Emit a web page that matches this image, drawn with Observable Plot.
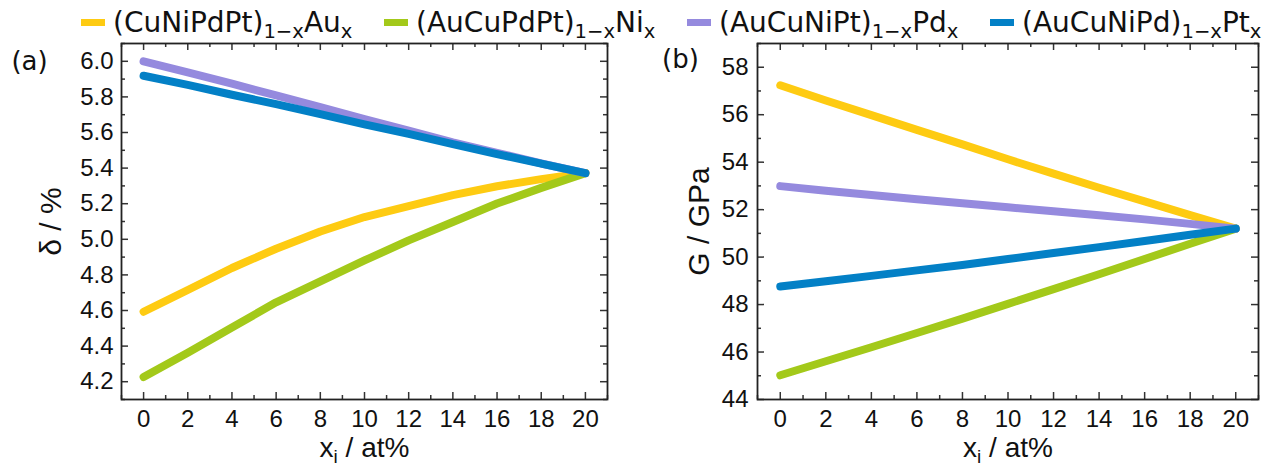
<!DOCTYPE html>
<html><head><meta charset="utf-8">
<script src="https://cdn.jsdelivr.net/npm/d3@7"></script>
<script src="https://cdn.jsdelivr.net/npm/@observablehq/plot@0.6"></script>
<style>
html,body{margin:0;padding:0;background:#fff;}
#wrap{position:relative;width:1267px;height:467px;overflow:hidden;background:#fff;}
#legend{position:absolute;left:0;top:7px;width:1267px;height:30px;z-index:2;font-family:"DejaVu Sans",sans-serif;font-size:28px;color:#111;}
.item{position:absolute;top:0;display:flex;align-items:center;height:30px;white-space:nowrap;}
.sw{display:inline-block;width:24px;height:7px;margin-right:8px;}
.item sub{font-size:0.7em;vertical-align:-0.3em;line-height:0;}
#pa,#pb{position:absolute;top:0;}
#pa{left:0px;} #pb{left:633px;}
</style></head><body>
<div id="wrap"><div id="pa"></div><div id="pb"></div><div id="legend"></div></div>
<script>
// ---- data ----
const xValues = [0, 2, 4, 6, 8, 10, 12, 14, 16, 18, 20];
const seriesKeys = ["Au", "Ni", "Pd", "Pt"];
const legendBase = ["(CuNiPdPt)", "(AuCuPdPt)", "(AuCuNiPt)", "(AuCuNiPd)"];
const legendElem = ["Au", "Ni", "Pd", "Pt"];
const seriesColors = ["#fecb12", "#a3c91a", "#958ade", "#0380c6"];

const deltaAu = [4.593, 4.715, 4.839, 4.947, 5.044, 5.125, 5.187, 5.248, 5.298, 5.338, 5.372];
const deltaNi = [4.226, 4.363, 4.504, 4.646, 4.764, 4.881, 4.994, 5.097, 5.201, 5.289, 5.372];
const deltaPd = [6.000, 5.938, 5.874, 5.808, 5.742, 5.675, 5.611, 5.545, 5.486, 5.426, 5.372];
const deltaPt = [5.919, 5.868, 5.812, 5.759, 5.703, 5.646, 5.592, 5.535, 5.479, 5.425, 5.372];

const gAu = [57.24, 56.60, 55.98, 55.36, 54.75, 54.12, 53.52, 52.92, 52.35, 51.77, 51.20];
const gNi = [45.02, 45.61, 46.20, 46.80, 47.41, 48.03, 48.65, 49.28, 49.92, 50.56, 51.20];
const gPd = [52.99, 52.80, 52.62, 52.44, 52.27, 52.10, 51.93, 51.76, 51.59, 51.40, 51.20];
const gPt = [48.76, 48.98, 49.21, 49.44, 49.67, 49.92, 50.17, 50.42, 50.68, 50.94, 51.20];

const xMajor = [0, 2, 4, 6, 8, 10, 12, 14, 16, 18, 20];
const xMinor = [-1, 1, 3, 5, 7, 9, 11, 13, 15, 17, 19, 21];
const yMajorA = [4.2, 4.4, 4.6, 4.8, 5.0, 5.2, 5.4, 5.6, 5.8, 6.0];
const yMinorA = [4.1, 4.3, 4.5, 4.7, 4.9, 5.1, 5.3, 5.5, 5.7, 5.9, 6.1];
const yMajorB = [44, 46, 48, 50, 52, 54, 56, 58];
const yMinorB = [45, 47, 49, 51, 53, 55, 57, 59];
const xLabelMain = "x", xLabelSub = "i", xLabelRest = " / at%";

// ---- legend ----
const legend = document.getElementById("legend");
const legendX = [81, 384, 687, 990];
seriesKeys.forEach((k, i) => {
  const it = document.createElement("div");
  it.className = "item";
  it.style.left = legendX[i] + "px";
  it.innerHTML = `<span class="sw" style="background:${seriesColors[i]}"></span><span>${legendBase[i]}<sub>1\u2212x</sub>${legendElem[i]}<sub>x</sub></span>`;
  legend.appendChild(it);
});

function rows(arrs) {
  const out = [];
  arrs.forEach((arr, si) => arr.forEach((v, j) => out.push({x: xValues[j], y: v, s: seriesKeys[si]})));
  return out;
}

function panel(o) {
  const H = o.height - o.marginTop - o.marginBottom;
  const W = o.width - o.marginLeft - o.marginRight;
  const tk = {stroke: "#333", strokeWidth: 1.5};
  const svg = Plot.plot({
    width: o.width, height: o.height,
    marginLeft: o.marginLeft, marginRight: o.marginRight, marginTop: o.marginTop, marginBottom: o.marginBottom,
    style: {fontFamily: "'Liberation Sans', Arial, sans-serif", fontSize: "24px", color: "#111", background: "transparent"},
    x: {domain: [-1, 21], axis: null},
    y: {domain: o.yDomain, axis: null},
    color: {domain: seriesKeys, range: seriesColors},
    marks: [
      Plot.line(rows(o.series), {x: "x", y: "y", z: "s", stroke: "s", strokeWidth: 8, strokeLinecap: "round", strokeLinejoin: "round"}),
      Plot.tickX(xMajor, {x: d => d, insetTop: H - 7, ...tk}),
      Plot.tickX(xMinor, {x: d => d, insetTop: H - 4, ...tk}),
      Plot.tickX(xMajor, {x: d => d, insetBottom: H - 7, ...tk}),
      Plot.tickX(xMinor, {x: d => d, insetBottom: H - 4, ...tk}),
      Plot.tickY(o.yMajor, {y: d => d, insetRight: W - 7, ...tk}),
      Plot.tickY(o.yMinor, {y: d => d, insetRight: W - 4, ...tk}),
      Plot.tickY(o.yMajor, {y: d => d, insetLeft: W - 7, ...tk}),
      Plot.tickY(o.yMinor, {y: d => d, insetLeft: W - 4, ...tk}),
      Plot.frame({stroke: "#222", strokeWidth: 1.8}),
      Plot.axisX(xMajor, {anchor: "bottom", tickSize: 0, tickPadding: 10, label: null}),
      Plot.axisY(o.yMajor, {anchor: "left", tickSize: 0, tickPadding: o.yPad, tickFormat: o.yFormat, label: null}),
      Plot.text([o.yLabel], {frameAnchor: "left", dx: o.yLabelDx, rotate: -90, text: d => d, fontSize: 30, textAnchor: "middle", lineAnchor: "middle", fill: "#111"}),
      Plot.text(["@@XLABEL@@"], {frameAnchor: "bottom", dy: 49, text: d => d, fontSize: 28, textAnchor: "middle", lineAnchor: "middle", fill: "#111"}),
      Plot.text([o.panelLabel], {frameAnchor: "top-left", dx: o.plDx, dy: o.plDy, text: d => d, fontSize: 26, fontFamily: "DejaVu Sans", textAnchor: "middle", lineAnchor: "middle", fill: "#111"})
    ]
  });
  // subscript in x label
  const ns = "http://www.w3.org/2000/svg";
  svg.querySelectorAll("text").forEach(t => {
    if (t.textContent === "@@XLABEL@@") {
      t.textContent = "";
      const a = document.createElementNS(ns, "tspan"); a.textContent = xLabelMain; t.appendChild(a);
      const b = document.createElementNS(ns, "tspan"); b.textContent = xLabelSub; b.setAttribute("font-size", "19"); b.setAttribute("dy", "6"); t.appendChild(b);
      const c = document.createElementNS(ns, "tspan"); c.textContent = xLabelRest; c.setAttribute("dy", "-6"); t.appendChild(c);
    }
  });
  return svg;
}

document.getElementById("pa").appendChild(panel({
  width: 633, height: 467, marginLeft: 121, marginRight: 26, marginTop: 43, marginBottom: 68,
  yDomain: [4.1, 6.1], yMajor: yMajorA, yMinor: yMinorA, yFormat: ".1f", yPad: 8,
  series: [deltaAu, deltaNi, deltaPd, deltaPt], yLabel: "\u03b4 / %", yLabelDx: -70,
  panelLabel: "(a)", plDx: -92, plDy: 18
}));
document.getElementById("pb").appendChild(panel({
  width: 634, height: 467, marginLeft: 124, marginRight: 9, marginTop: 43, marginBottom: 68,
  yDomain: [44, 59], yMajor: yMajorB, yMinor: yMinorB, yFormat: "d", yPad: 9,
  series: [gAu, gNi, gPd, gPt], yLabel: "G / GPa", yLabelDx: -58,
  panelLabel: "(b)", plDx: -77, plDy: 16
}));
</script>
</body></html>
